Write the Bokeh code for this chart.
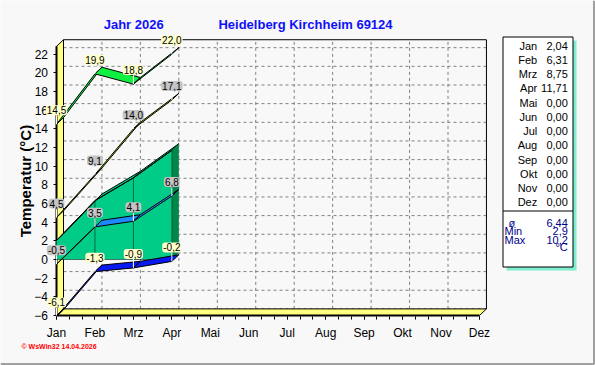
import numpy as np
from bokeh.plotting import figure
from bokeh.models import Range1d, FixedTicker, Label
from bokeh.embed import file_html
from bokeh.resources import INLINE
from bokeh.core.properties import value

# ---------------- data ----------------
months = ["Jan", "Feb", "Mrz", "Apr", "Mai", "Jun", "Jul", "Aug", "Sep", "Okt", "Nov", "Dez"]
y_ticks = list(range(-6, 23, 2))
max_t = [14.5, 19.9, 18.8, 22.0]        # absolute maximum
mean_max = [4.5, 9.1, 14.0, 17.1]       # mean maximum
mean_t = [2.04, 6.31, 8.75, 11.71]      # monthly mean (area)
mean_min = [-0.5, 3.5, 4.1, 6.8]        # mean minimum
min_t = [-6.1, -1.3, -0.9, -0.2]        # absolute minimum
month_means = [2.04, 6.31, 8.75, 11.71, 0, 0, 0, 0, 0, 0, 0, 0]
stat_avg, stat_min, stat_max = 6.44, 2.9, 10.2
title_year = "Jahr  2026"
title_station = "Heidelberg Kirchheim 69124"
footer = "\u00a9 WsWin32  14.04.2026"
y_label = "Temperatur  (\u00b0C)"

# ---------------- geometry ----------------
W, H = 595, 365
PX_X = 38.45          # px per month
PX_Y = 9.33           # px per degree
X_JAN, Y_M6 = 56, 315 # pixel position of (Jan, -6) on the front plane

def X(px):
    return (px - X_JAN) / PX_X

def Y(py):
    return -6 + (Y_M6 - py) / PX_Y

DX = 7 / PX_X         # depth offset (data units)
DY = 6.6 / PX_Y
Y_BOT, Y_TOP = -6, 22.85
LAST = len(months) - 1
FONT = "Liberation Sans"

def fmt(v, d=1):
    return f"{v:.{d}f}".replace(".", ",")

p = figure(width=W, height=H,
           x_range=Range1d(X(0), X(W)), y_range=Range1d(Y(H), Y(0)),
           output_backend="svg", toolbar_location=None, min_border=0,
           background_fill_color="#f8f8f8", border_fill_color="#f8f8f8",
           outline_line_color=None)
p.grid.visible = False

# axes (fixed inside the frame)
xa = p.xaxis[0]
xa.fixed_location = Y(316)
xa.ticker = FixedTicker(ticks=list(range(len(months))),
                        minor_ticks=[k / 3 for k in range(3 * LAST + 1)])
xa.major_label_overrides = {i: m for i, m in enumerate(months)}
xa.axis_line_color = None
xa.major_tick_in = 0
xa.major_tick_out = 3
xa.minor_tick_in = 0
xa.minor_tick_out = 3
xa.major_label_standoff = 6
xa.major_label_text_font = FONT
xa.major_label_text_font_size = "12px"
xa.major_label_text_color = "black"

ya = p.yaxis[0]
ya.fixed_location = X(55.5)
ya.bounds = (-6, 23.26)
ya.ticker = FixedTicker(ticks=y_ticks, minor_ticks=[])
ya.axis_line_color = None
ya.major_tick_in = 0
ya.major_tick_out = 3
ya.minor_tick_out = 0
ya.minor_tick_in = 0
ya.major_label_standoff = 5
ya.major_label_text_font = FONT
ya.major_label_text_font_size = "12px"
ya.major_label_text_color = "black"
ya.axis_label = y_label
ya.axis_label_standoff = -2
ya.axis_label_text_font = FONT
ya.axis_label_text_font_size = "15px"
ya.axis_label_text_font_style = "bold"
ya.axis_label_text_color = "black"

# back plane grid
p.multi_line(xs=[[DX, LAST + DX] for v in y_ticks],
             ys=[[v + DY, v + DY] for v in y_ticks],
             line_color="#808080", line_dash="3 3", line_width=1)
p.multi_line(xs=[[i + DX, i + DX] for i in range(1, LAST)],
             ys=[[Y_BOT + DY, Y_TOP + DY] for i in range(1, LAST)],
             line_color="#808080", line_dash="3 3", line_width=1)
p.line([DX, LAST + DX, LAST + DX], [Y_TOP + DY, Y_TOP + DY, Y_BOT + DY],
       line_color="black", line_width=1)

# wall and floor
p.patch([0, 0, DX, DX], [Y_BOT, Y_TOP, Y_TOP + DY, Y_BOT + DY],
        fill_color="#ffff80", line_color="black", line_width=1)
p.patch([0, LAST, LAST + DX, DX], [Y_BOT, Y_BOT, Y_BOT + DY, Y_BOT + DY],
        fill_color="#ffff80", line_color="black", line_width=1)
p.line([0, 0], [Y_BOT, Y_TOP], line_color="black", line_width=2)
p.line([0, LAST], [Y_BOT, Y_BOT], line_color="black", line_width=2)

# mean area (3D)
n = len(mean_t)
idx = list(range(n))
TEAL, DARK = "#00cc88", "#00884a"
p.patch(idx + [n - 1, 0], mean_t + [0, 0], fill_color=TEAL, line_color=None)
p.patch(idx + [i + DX for i in idx[::-1]], mean_t + [v + DY for v in mean_t[::-1]],
        fill_color=TEAL, line_color="black", line_width=1)
p.patch([n - 1, n - 1 + DX, n - 1 + DX, n - 1], [mean_t[-1], mean_t[-1] + DY, DY, 0],
        fill_color=DARK, line_color=None)
p.line(idx, mean_t, line_color="black", line_width=1)
p.multi_line(xs=[[i, i] for i in idx[1:]], ys=[[0, mean_t[i]] for i in idx[1:]],
             line_color="black", line_dash="1 1", line_width=1)
p.multi_line(xs=[[i, i + DX] for i in idx[1:-1]],
             ys=[[mean_t[i], mean_t[i] + DY] for i in idx[1:-1]],
             line_color="black", line_dash="1 1", line_width=1)
p.line([0, n - 1], [0, 0], line_color="black", line_dash="1 1", line_width=1)

# ribbons
def ribbon(vals, color):
    xs, ys = [], []
    for i in range(len(vals) - 1):
        xs.append([i, i + 1, i + 1 + DX, i + DX])
        ys.append([vals[i], vals[i + 1], vals[i + 1] + DY, vals[i] + DY])
    p.patches(xs, ys, fill_color=color, line_color="black", line_width=1)

ribbon(mean_min, "#1e88ff")
ribbon(min_t, "#0818f0")
ribbon(mean_max, "#b8e800")
ribbon(max_t, "#10f040")

# value labels with leaders
LBL = 14 / PX_Y
LEAD = 9 / PX_Y
series_lbl = [(max_t, "#ffffcc"), (mean_max, "#c4c4c4"),
              (mean_min, "#c4c4c4"), (min_t, "#ffffcc")]
p.multi_line(xs=[[i, i] for s, c in series_lbl for i in range(len(s))],
             ys=[[v, v + LEAD] for s, c in series_lbl for v in s],
             line_color="white", line_width=1)
for s, col in series_lbl:
    for i, v in enumerate(s):
        p.add_layout(Label(x=i, y=v + LBL, text=fmt(v), text_align="center",
                           text_baseline="middle", text_font=FONT,
                           text_font_size="10px", text_color="black",
                           background_fill_color=col, padding=1, border_radius=3))

# titles and footer
p.text(x=[X(135), X(305)], y=[Y(24), Y(24)], text=[title_year, title_station],
       text_align="center", text_baseline="middle", text_font=value(FONT),
       text_font_size="13px", text_font_style="bold", text_color="#1010f8")
p.text(x=[X(21)], y=[Y(345.5)], text=[footer], text_align="left",
       text_baseline="middle", text_font=value(FONT), text_font_size="7px",
       text_font_style="bold", text_color="#ff0000")

# ---------------- side panel ----------------
p.quad(left=X(506), right=X(576), top=Y(40), bottom=Y(270),
       fill_color="#80ecd0", line_color=None)
p.quad(left=X(502.5), right=X(572.5), top=Y(36.5), bottom=Y(266.5),
       fill_color="white", line_color="black", line_width=1)
p.line([X(502.5), X(572.5)], [Y(210.5), Y(210.5)], line_color="black", line_width=1)
rows_y = [Y(45 + 14.25 * k) for k in range(len(months))]
p.text(x=[X(536.7)] * len(months), y=rows_y, text=months, text_align="right",
       text_baseline="middle", text_font=value(FONT), text_font_size="11px",
       text_color="black")
p.text(x=[X(567.3)] * len(months), y=rows_y, text=[fmt(v, 2) for v in month_means],
       text_align="right", text_baseline="middle", text_font=value(FONT),
       text_font_size="11px", text_color="black")
stat_y = [Y(222.3), Y(230.7), Y(239), Y(246.7)]
p.text(x=[X(508), X(504), X(504)], y=stat_y[:3], text=["\u00f8", "Min", "Max"],
       text_align="left", text_baseline="middle", text_font=value(FONT),
       text_font_size="11px", text_color="#000088")
p.text(x=[X(567.3)] * 4, y=stat_y,
       text=[fmt(stat_avg, 2), fmt(stat_min), fmt(stat_max), "\u00b0C"],
       text_align="right", text_baseline="middle", text_font=value(FONT),
       text_font_size="11px", text_color="#000088")

# outer frame shade (right and bottom)
p.line([X(593.5), X(593.5), X(0)], [Y(0), Y(363.5), Y(363.5)],
       line_color="#a0a0a0", line_width=2)

open("out.html", "w").write(file_html(p, INLINE))
